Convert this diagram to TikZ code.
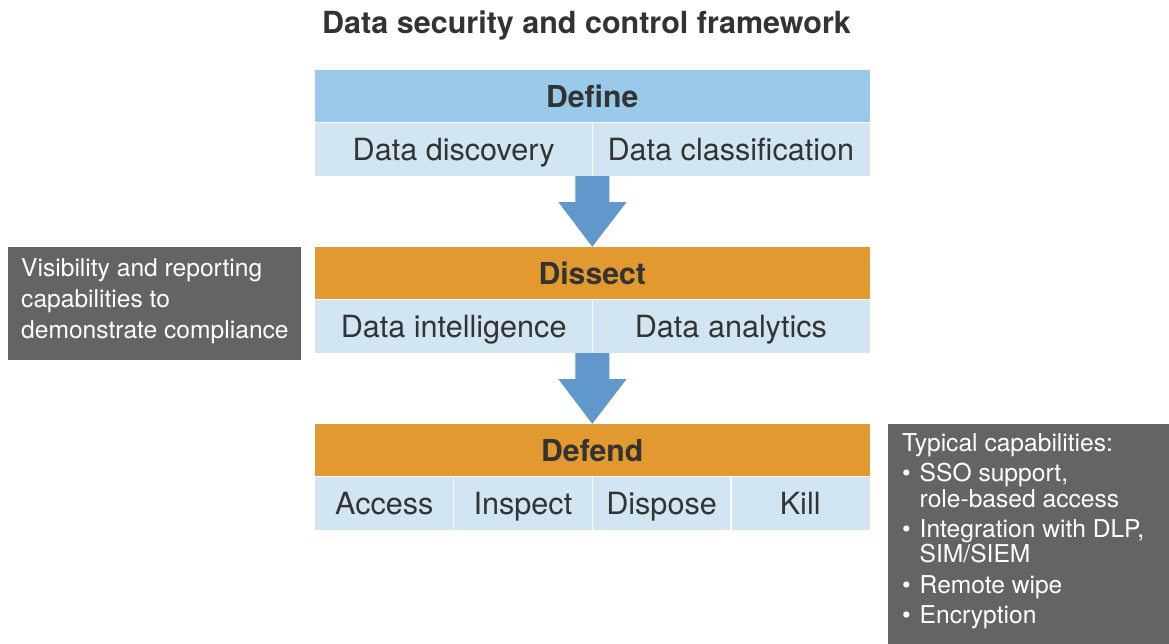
\documentclass[tikz,border=0pt]{standalone}
\usepackage{fontspec}
\setmainfont{TeX Gyre Heros}
\usetikzlibrary{calc}
\definecolor{hblue}{HTML}{9ACAEA}
\definecolor{cblue}{HTML}{D1E6F2}
\definecolor{horange}{HTML}{E2992F}
\definecolor{arrowc}{HTML}{6098CB}
\definecolor{boxgray}{HTML}{646464}
\definecolor{txt}{HTML}{333333}
\begin{document}
\begin{tikzpicture}[x=1pt,y=-1pt,
  hdr/.style={inner sep=0pt, minimum width=554.5pt, minimum height=52.5pt, text=txt,
    font=\fontsize{30.2}{31}\selectfont\bfseries, text height=21.6pt, text depth=0pt},
  cell/.style={fill=cblue, inner sep=0pt, minimum height=53pt, text=txt,
    font=\fontsize{30.6}{31}\selectfont, text height=21.8pt, text depth=0pt},
  half/.style={cell, minimum width=277.25pt},
  quarter/.style={cell, minimum width=138.625pt},
  divider/.style={draw=white, line width=1.3pt},
  flowarrow/.style={fill=arrowc},
  graybox/.style={fill=boxgray, inner sep=0pt},
  boxtext/.style={text=white, inner sep=0pt, anchor=base west, font=\fontsize{24.6}{26}\selectfont},
  titletext/.style={text=txt, inner sep=0pt, anchor=base, font=\fontsize{30.5}{32}\selectfont\bfseries}
]
\useasboundingbox (0,0) rectangle (1169,644);
\fill[white] (0,0) rectangle (1169,644);

% title
\node[titletext] (title) at (586.5,34) {Data security and control framework};

% Define block
\node[hdr, fill=hblue] (def) at (592.25,96.25) {Define};
\node[half] (dd) at (453.625,149.5) {Data discovery};
\node[half] (dc) at (730.875,149.5) {Data classification};
\draw[divider] (dd.north east) -- (dd.south east);
\draw[divider] (dd.north west) -- (dc.north east);

% Dissect block
\node[hdr, fill=horange] (dis) at (592.25,273.25) {Dissect};
\node[half] (di) at (453.625,326.5) {Data intelligence};
\node[half] (da) at (730.875,326.5) {Data analytics};
\draw[divider] (di.north east) -- (di.south east);
\draw[divider] (di.north west) -- (da.north east);

% Defend block
\node[hdr, fill=horange] (dfd) at (592.25,450.25) {Defend};
\node[quarter] (acc) at (384.31,503.5) {Access};
\node[quarter] (ins) at (522.94,503.5) {Inspect};
\node[quarter] (dsp) at (661.56,503.5) {Dispose};
\node[quarter] (kil) at (800.19,503.5) {Kill};
\draw[divider] (acc.north east) -- (acc.south east);
\draw[divider] (ins.north east) -- (ins.south east);
\draw[divider] (dsp.north east) -- (dsp.south east);
\draw[divider] (acc.north west) -- (kil.north east);

% arrows
\fill[flowarrow] ($(dd.south east)+(-17,0)$) -- ($(dd.south east)+(17,0)$)
  -- ($(dd.south east)+(17,26)$) -- ($(dd.south east)+(34,26)$) -- (dis.north)
  -- ($(dd.south east)+(-34,26)$) -- ($(dd.south east)+(-17,26)$) -- cycle;
\fill[flowarrow] ($(di.south east)+(-17,0)$) -- ($(di.south east)+(17,0)$)
  -- ($(di.south east)+(17,26)$) -- ($(di.south east)+(34,26)$) -- (dfd.north)
  -- ($(di.south east)+(-34,26)$) -- ($(di.south east)+(-17,26)$) -- cycle;

% left gray box
\node[graybox, minimum width=293.5pt, minimum height=112pt] (vis) at (154.25,303.5) {};
\node[boxtext] (v1) at (21,276.5) {Visibility and reporting};
\node[boxtext] (v2) at (21,307.5) {capabilities to};
\node[boxtext] (v3) at (21,338.5) {demonstrate compliance};

% right gray box
\node[graybox, minimum width=281.5pt, minimum height=220pt] (cap) at (1028.25,534) {};
\node[boxtext] (c0) at (902,451) {Typical capabilities:};
\node[boxtext] (b1) at (902,481) {•};
\node[boxtext] (c1) at (919.5,481) {SSO support,};
\node[boxtext] (c2) at (919.5,507) {role-based access};
\node[boxtext] (b2) at (902,537) {•};
\node[boxtext] (c3) at (919.5,537) {Integration with DLP,};
\node[boxtext] (c4) at (919.5,562.5) {SIM/SIEM};
\node[boxtext] (b3) at (902,593) {•};
\node[boxtext] (c5) at (919.5,593) {Remote wipe};
\node[boxtext] (b4) at (902,623) {•};
\node[boxtext] (c6) at (919.5,623) {Encryption};
\end{tikzpicture}
\end{document}
